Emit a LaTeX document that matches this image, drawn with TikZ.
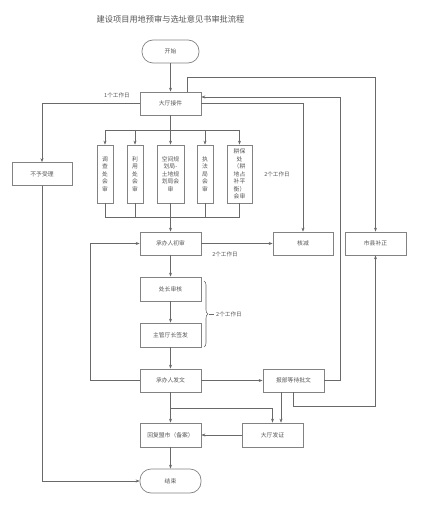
\documentclass[tikz,border=0pt]{standalone}
\usepackage{fontspec}
\setmainfont{Noto Sans CJK SC}
\usetikzlibrary{arrows.meta,decorations.pathreplacing}
\definecolor{boxc}{RGB}{130,130,130}
\definecolor{linec}{RGB}{105,105,105}
\definecolor{txtc}{RGB}{85,85,85}
\tikzset{
  box/.style={draw=boxc, line width=0.7pt, minimum width=61pt, minimum height=23pt, inner sep=1pt,
    font=\fontsize{5.8}{7.5}\selectfont, text=txtc, align=center},
  vbox/.style={box, minimum width=16pt, minimum height=58pt},
  term/.style={box, rounded corners=11pt},
  conn/.style={draw=linec, line width=0.6pt},
  arr/.style={conn, -{Stealth[length=4pt,width=3pt]}},
  lbl/.style={font=\fontsize{5.6}{7}\selectfont, text=txtc, inner sep=0pt}
}
\begin{document}
\begin{tikzpicture}[x=1pt,y=-1pt]
\useasboundingbox (0,0) rectangle (420,505);
\node[font=\fontsize{8.2}{10}\selectfont, text=txtc] (title) at (170.5,19) {建设项目用地预审与选址意见书审批流程};
\node[term, minimum width=57pt] (start) at (170.5,51.5) {开始};
\node[box] (hall) at (170.5,103.5) {大厅接件};
\node[box, minimum width=60pt] (reject) at (42,174) {不予受理};
\node[vbox] (d1) at (105,174) {调\\查\\处\\会\\审};
\node[vbox] (d2) at (135,174) {利\\用\\处\\会\\审};
\node[vbox, minimum width=27pt] (d3) at (170.5,174) {空间规\\划局-\\土地规\\划局会\\审};
\node[vbox] (d4) at (205,174) {执\\法\\局\\会\\审};
\node[vbox, minimum width=25pt] (d5) at (239.5,174) {耕保\\处\\（耕\\地占\\补平\\衡）\\会审};
\node[box] (first) at (170.5,243.5) {承办人初审};
\node[box, minimum width=60pt] (cut) at (303,243.5) {核减};
\node[box] (fix) at (375.5,243.5) {市县补正};
\node[box, minimum height=24pt] (chief) at (170.5,289) {处长审核};
\node[box, minimum height=24pt] (sign) at (170.5,335) {主管厅长签发};
\node[box] (issue) at (170.5,380.5) {承办人发文};
\node[box] (wait) at (293.5,380.5) {报部等待批文};
\node[box, minimum height=24pt] (reply) at (170.5,435) {回复盟市（备案）};
\node[box, minimum height=24pt] (cert) at (272.5,435) {大厅发证};
\node[term, minimum height=24pt] (end) at (170.5,481) {结束};
% labels
\node[lbl] (l1) at (117,95) {1个工作日};
\node[lbl] (l2) at (277,174) {2个工作日};
\node[lbl] (l3) at (225,254) {2个工作日};
\node[lbl, anchor=west] (l4) at (216,314) {2个工作日};
% connectors
\draw[arr] (start) -- (hall);
\draw[arr] ([xshift=16.5pt]hall.north) -- ++(0,-14) -| (fix.north);
\draw[arr] (wait.east) -- ++(16,0) |- ([yshift=6.5pt]hall.east);
\draw[arr] (hall.east) -| (cut.north);
\draw[arr] (hall.west) -| (reject.north);
\coordinate (busT) at (170.5,130);
\coordinate (busB) at (170.5,217);
\draw[conn] (hall.south) -- (busT);
\draw[conn] (d1.north|-busT) -- (d5.north|-busT);
\foreach \n in {d1,d2,d3,d4,d5}{
  \draw[arr] (\n.north|-busT) -- (\n.north);
  \draw[conn] (\n.south) -- (\n.south|-busB);
}
\draw[conn] (d1.south|-busB) -- (d5.south|-busB);
\draw[arr] (busB) -- (first.north);
\draw[arr] (first.east) -- (cut.west);
\draw[arr] (issue.west) -- ++(-49,0) |- (first.west);
\draw[arr] (first) -- (chief);
\draw[arr] (chief) -- (sign);
\draw[arr] (sign) -- (issue);
\draw[conn, decorate, decoration={brace, amplitude=4pt}] (204,281) -- (204,347);
\draw[conn] (209,314) -- (214,314);
\draw[arr] (issue.east) -- (wait.west);
\draw[arr] (wait.south) -- ++(0,14) -| (fix.south);
\coordinate (br) at (170.5,408);
\draw[arr] (issue.south) -- (reply.north);
\draw[arr] (br) -| (cert.north);
\draw[arr] ([xshift=-12.5pt]wait.south) -- ([xshift=8.5pt]cert.north);
\draw[arr] (cert.west) -- (reply.east);
\draw[arr] (reply.south) -- (end.north);
\draw[arr] (reject.south) |- (end.west);
\end{tikzpicture}
\end{document}
